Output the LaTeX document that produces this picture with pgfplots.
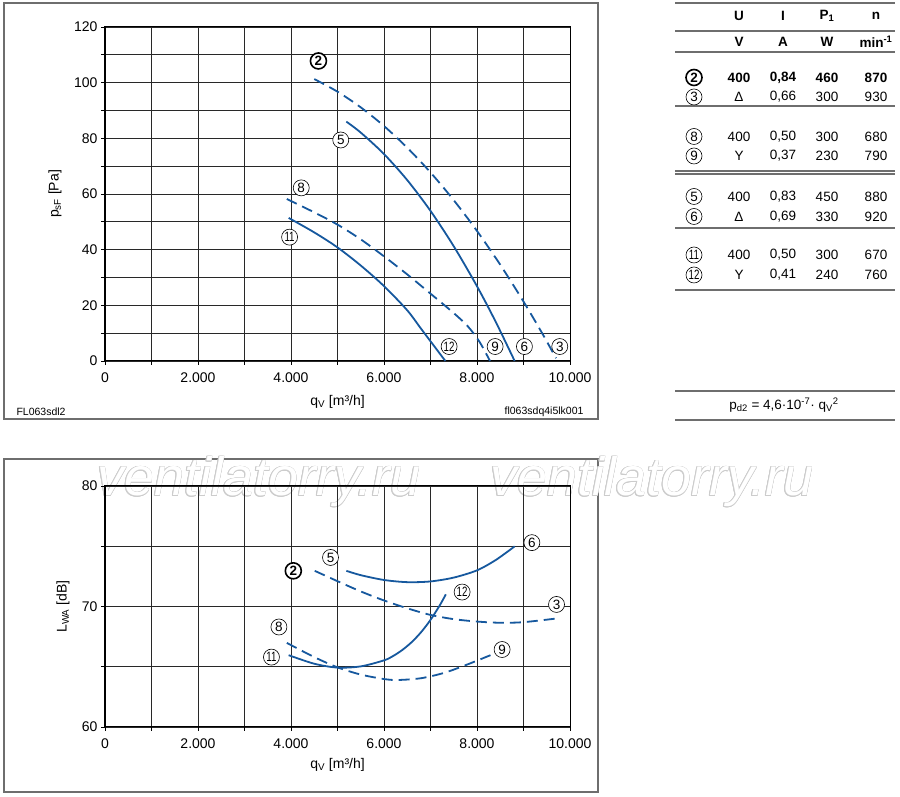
\documentclass[border=0pt]{standalone}
\usepackage{pgfplots}
\pgfplotsset{compat=1.18}
\usetikzlibrary{calc}
\usepackage{graphicx}
\usepackage{fontspec}
\setmainfont{Liberation Sans}
\definecolor{cb}{RGB}{22,88,158}
\definecolor{gl}{RGB}{40,40,40}
\definecolor{fr}{RGB}{110,110,110}
\tikzset{
  cl/.style={circle,draw=black,fill=white,line width=0.6pt,inner sep=0pt,minimum size=16pt,font=\fontsize{13.5}{13.5}\selectfont},
  clb/.style={circle,draw=black,fill=white,line width=1.6pt,inner sep=0pt,minimum size=16pt,font=\fontsize{13.5}{13.5}\selectfont\bfseries},
  tt/.style={font=\fontsize{13.5}{15}\selectfont},
  ttb/.style={font=\fontsize{13.5}{15}\selectfont\bfseries},
  wm/.style={anchor=base west,inner sep=0pt,font=\fontsize{54}{54}\selectfont\itshape},
}
\newcommand{\tw}[1]{\scalebox{0.72}[1]{#1}}
\pgfplotsset{
  chart/.style={
    scale only axis, width=465pt, anchor=south west,
    xmin=0, xmax=10000,
    xtick={0,2000,4000,6000,8000,10000},
    xticklabels={0,2.000,4.000,6.000,8.000,10.000},
    minor xtick={1000,3000,5000,7000,9000},
    grid=both,
    major grid style={gl,line width=0.8pt},
    minor grid style={gl,line width=0.8pt},
    tick align=outside, tick pos=left,
    major tick length=4pt, minor tick length=4pt,
    tick style={black,line width=0.8pt},
    axis line style={black,line width=1pt},
    ticklabel style={font=\fontsize{14}{16}\selectfont},
    xticklabel style={yshift=-4pt},
    label style={font=\fontsize{14}{16}\selectfont},
    xlabel={q\textsubscript{V} [m³/h]},
    scaled ticks=false, clip=false,
  },
  cs/.style={cb,line width=1.8pt,smooth,no marks},
  cd/.style={cb,line width=1.8pt,smooth,no marks,dash pattern=on 11pt off 6pt},
}
\begin{document}
\begin{tikzpicture}[x=1pt,y=1pt]
\useasboundingbox (0,0) rectangle (900,797);
\fill[white] (0,0) rectangle (900,797);
% frames
\draw[fr,line width=1.3pt] (4,378) rectangle (598,794);
\draw[fr,line width=1.3pt] (4,5) rectangle (598,338);

% watermark (outlined), drawn beneath the chart
\foreach \a in {0,30,...,330}{
  \node[wm,text=black!20] at ($(97,301)+(\a:0.6)$) {ventilatorry.ru};
  \node[wm,text=black!20] at ($(490,301)+(\a:0.6)$) {ventilatorry.ru};
}
\node[wm,text=white] at (97,301) {ventilatorry.ru};
\node[wm,text=white] at (490,301) {ventilatorry.ru};

% ---------------- top chart ----------------
\begin{axis}[chart, at={(105pt,436pt)}, height=334pt,
  ymin=0, ymax=120,
  ytick={0,20,40,60,80,100,120},
  yticklabels={0,20,40,60,80,100,120},
  minor ytick={10,30,50,70,90,110},
  ylabel={p\textsubscript{sF} [Pa]},
  ylabel style={at={(axis description cs:-0.1075,0.5)},anchor=center},
  xlabel style={at={(axis description cs:0.5,0)},anchor=center,yshift=-41pt}]
\addplot[cd] coordinates {(4500,101.3)(5000,96.76)(5500,91.13)(6000,84.42)(6500,76.62)(7000,67.74)(7500,57.77)(8000,46.72)(8500,34.58)(9000,21.36)(9400,10.0)(9700,1.0)};
\addplot[cs] coordinates {(5190,86)(5500,82.06)(6000,74.35)(6500,64.98)(7000,53.93)(7500,41.22)(8000,26.85)(8400,14.15)(8810,0)};
\addplot[cd] coordinates {(3910,58.2)(4500,53.4)(5000,49.0)(5500,43.7)(6000,37.6)(6500,31.1)(7000,24.2)(7500,17.2)(7800,12.5)(8050,7)(8280,0)};
\addplot[cs] coordinates {(3950,51.4)(4500,46.2)(5000,40.8)(5500,34.3)(6000,26.9)(6500,18.2)(6810,11.3)(7320,0)};
\node[clb] at (axis cs:4590,107.8) {2};
\node[cl] at (axis cs:5070,79.4) {5};
\node[cl] at (axis cs:4220,62.2) {8};
\node[cl] at (axis cs:3970,44.5) {\tw{11}};
\node[cl] at (axis cs:7400,5.2) {\tw{12}};
\node[cl] at (axis cs:8390,5.2) {9};
\node[cl] at (axis cs:9020,5.2) {6};
\node[cl] at (axis cs:9780,5.2) {3};
\end{axis}

% ---------------- bottom chart ----------------
\begin{axis}[chart, at={(105pt,70pt)}, height=241pt,
  ymin=60, ymax=80,
  ytick={60,70,80},
  yticklabels={60,70,80},
  minor ytick={65,75},
  ylabel={L\textsubscript{WA} [dB]},
  ylabel style={at={(axis description cs:-0.0903,0.5)},anchor=center},
  xlabel style={at={(axis description cs:0.5,0)},anchor=center,yshift=-38pt}]
\addplot[cd] coordinates {(4510,72.96)(5000,72.1)(5500,71.25)(6000,70.5)(6500,69.85)(7000,69.3)(7500,68.95)(8000,68.75)(8500,68.65)(9000,68.7)(9700,69.0)};
\addplot[cs] coordinates {(5190,72.96)(5500,72.6)(6000,72.2)(6500,72.02)(7000,72.08)(7500,72.4)(8000,73.0)(8400,73.85)(8810,74.99)};
\addplot[cd] coordinates {(3910,66.98)(4500,65.8)(5000,64.95)(5500,64.35)(6000,63.98)(6300,63.9)(6800,64.05)(7300,64.5)(7800,65.2)(8290,65.96)};
\addplot[cs] coordinates {(3950,65.96)(4500,65.25)(5000,64.93)(5500,65.03)(6000,65.53)(6200,65.9)(6400,66.41)(6600,67.06)(6800,67.88)(7000,68.89)(7200,70.1)(7330,71.01)};
\node[cl] at (axis cs:9180,75.3) {6};
\node[cl] at (axis cs:4850,74.07) {5};
\node[clb] at (axis cs:4050,72.96) {2};
\node[cl] at (axis cs:7680,71.2) {\tw{12}};
\node[cl] at (axis cs:9710,70.17) {3};
\node[cl] at (axis cs:3740,68.3) {8};
\node[cl] at (axis cs:8540,66.43) {9};
\node[cl] at (axis cs:3580,65.8) {\tw{11}};
\end{axis}

% notes
\node[anchor=west,font=\fontsize{10.5}{12}\selectfont] at (13,385) {FL063sdl2};
\node[anchor=east,font=\fontsize{10.5}{12}\selectfont] at (587,385) {fl063sdq4i5lk001};

% table
\foreach \yy in {3,31,52,106,171,174,228,290,391,420}{
  \draw[fr,line width=1.1pt] (675,797-\yy) -- (895,797-\yy);
}
\def\ca{694}\def\cu{739}\def\ci{783}\def\cp{827}\def\cn{876}
\node[ttb] at (\cu,781) {U};
\node[ttb] at (\ci,781) {I};
\node[ttb] at (\cp,781) {P\textsubscript{1}};
\node[ttb] at (\cn,781) {n};
\node[ttb] at (\cu,755) {V};
\node[ttb] at (\ci,755) {A};
\node[ttb] at (\cp,755) {W};
\node[ttb] at (\cn,755) {min\textsuperscript{-1}};
% rows
\node[clb] at (\ca,797-77.5) {2};
\node[ttb] at (\cu,797-77.5) {400};
\node[ttb] at (\ci,797-77.5) {0,84};
\node[ttb] at (\cp,797-77.5) {460};
\node[ttb] at (\cn,797-77.5) {870};
\node[cl] at (\ca,797-97) {3};
\node[tt] at (\cu,797-97) {Δ};
\node[tt] at (\ci,797-97) {0,66};
\node[tt] at (\cp,797-97) {300};
\node[tt] at (\cn,797-97) {930};
\node[cl] at (\ca,797-136.5) {8};
\node[tt] at (\cu,797-136.5) {400};
\node[tt] at (\ci,797-136.5) {0,50};
\node[tt] at (\cp,797-136.5) {300};
\node[tt] at (\cn,797-136.5) {680};
\node[cl] at (\ca,797-156) {9};
\node[tt] at (\cu,797-156) {Y};
\node[tt] at (\ci,797-156) {0,37};
\node[tt] at (\cp,797-156) {230};
\node[tt] at (\cn,797-156) {790};
\node[cl] at (\ca,797-196.5) {5};
\node[tt] at (\cu,797-196.5) {400};
\node[tt] at (\ci,797-196.5) {0,83};
\node[tt] at (\cp,797-196.5) {450};
\node[tt] at (\cn,797-196.5) {880};
\node[cl] at (\ca,797-216.5) {6};
\node[tt] at (\cu,797-216.5) {Δ};
\node[tt] at (\ci,797-216.5) {0,69};
\node[tt] at (\cp,797-216.5) {330};
\node[tt] at (\cn,797-216.5) {920};
\node[cl] at (\ca,797-255) {\tw{11}};
\node[tt] at (\cu,797-255) {400};
\node[tt] at (\ci,797-255) {0,50};
\node[tt] at (\cp,797-255) {300};
\node[tt] at (\cn,797-255) {670};
\node[cl] at (\ca,797-275) {\tw{12}};
\node[tt] at (\cu,797-275) {Y};
\node[tt] at (\ci,797-275) {0,41};
\node[tt] at (\cp,797-275) {240};
\node[tt] at (\cn,797-275) {760};
\node[tt] at (784,797-405) {p\textsubscript{d2} = 4,6·10\textsuperscript{-7}· q\textsubscript{V}\textsuperscript{2}};
\end{tikzpicture}
\end{document}
